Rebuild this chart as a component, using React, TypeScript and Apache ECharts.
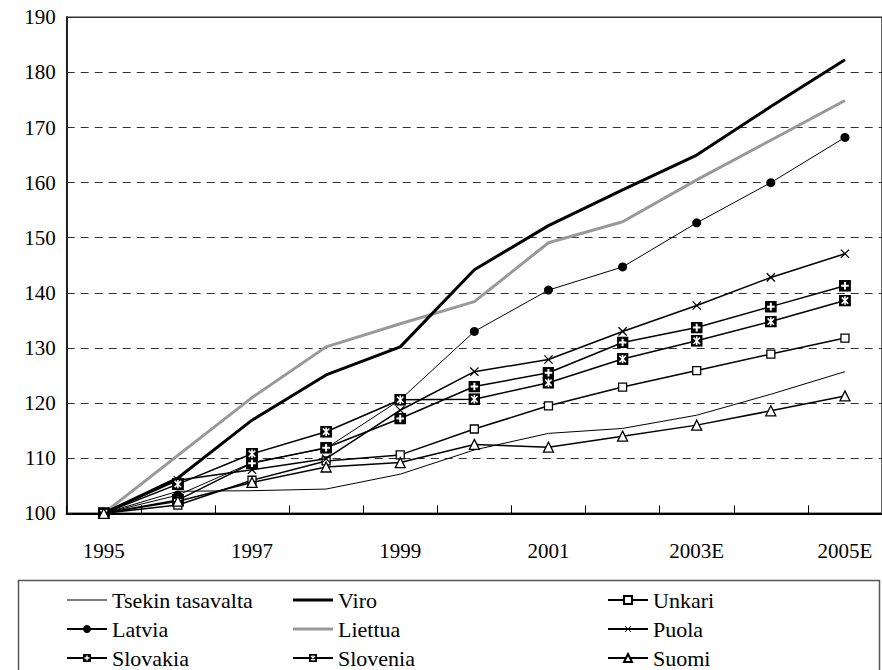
import React, { useEffect, useRef } from "react";
import * as echarts from "echarts";

const years = ["1995", "1996", "1997", "1998", "1999", "2000", "2001", "2002", "2003E", "2004E", "2005E"];
const yTicks = [100, 110, 120, 130, 140, 150, 160, 170, 180, 190];

const tsekin = [100, 104.0, 104.1, 104.4, 107.1, 111.5, 114.5, 115.4, 117.8, 121.6, 125.7];
const viro = [100, 106.4, 116.9, 125.1, 130.2, 144.2, 152.2, 158.7, 165.0, 173.8, 182.3];
const unkari = [100, 101.5, 106.0, 109.5, 110.6, 115.3, 119.5, 122.9, 125.9, 128.9, 131.8];
const latvia = [100, 103.3, 109.2, 111.8, 120.6, 133.0, 140.5, 144.7, 152.7, 160.0, 168.2];
const liettua = [100, 110.5, 121.0, 130.2, 134.4, 138.4, 149.1, 152.9, 160.5, 167.7, 174.9];
const puola = [100, 106.0, 107.9, 109.9, 118.7, 125.7, 127.9, 133.0, 137.7, 142.8, 147.1];
const slovakia = [100, 102.4, 109.1, 111.9, 117.2, 123.0, 125.5, 131.0, 133.7, 137.5, 141.3];
const slovenia = [100, 105.3, 110.8, 114.8, 120.6, 120.7, 123.7, 128.0, 131.3, 134.8, 138.6];
const suomi = [100, 102.2, 105.6, 108.4, 109.2, 112.5, 112.0, 114.0, 116.0, 118.6, 121.3];

const FONT = "Liberation Serif";

const svgUri = (s: string) => "image://data:image/svg+xml;charset=utf-8," + encodeURIComponent(s);
const plusBox = svgUri(
  "<svg xmlns='http://www.w3.org/2000/svg' width='12' height='12' viewBox='0 0 12 12'><rect width='12' height='12' fill='black'/><path d='M6 2.2V9.8M2.2 6H9.8' stroke='white' stroke-width='2'/></svg>"
);
const starBox = svgUri(
  "<svg xmlns='http://www.w3.org/2000/svg' width='12' height='12' viewBox='0 0 12 12'><rect width='12' height='12' fill='black'/><path d='M6 1.8V10.2M2.8 2.8L9.2 9.2M9.2 2.8L2.8 9.2' stroke='white' stroke-width='1.6'/></svg>"
);
const xMark = svgUri(
  "<svg xmlns='http://www.w3.org/2000/svg' width='12' height='12' viewBox='0 0 12 12'><path d='M1.5 1.5L10.5 10.5M10.5 1.5L1.5 10.5' stroke='black' stroke-width='1.4'/></svg>"
);
const thinIcon = "path://M0,0H42V1H0Z";
const thickIcon = "path://M0,0H42V3H0Z";

export default function App() {
  const ref = useRef<HTMLDivElement>(null);
  useEffect(() => {
    if (!ref.current) return;
    const chart = echarts.init(ref.current, null, { renderer: "svg" });
    const line = (name: string, data: number[], width: number, color: string, symbol: string, size: number, itemStyle: any, z: number) => ({
      name,
      type: "line",
      data,
      z,
      symbol,
      symbolSize: size,
      showSymbol: symbol !== "none",
      lineStyle: { color, width },
      itemStyle: itemStyle || { color },
      emphasis: { disabled: true },
    });
    const legendBase = {
      orient: "vertical",
      top: 589,
      height: 81,
      padding: 0,
      itemWidth: 40,
      itemHeight: 10,
      itemGap: 7,
      textStyle: { fontFamily: FONT, fontSize: 22, color: "#000", lineHeight: 22 },
      selectedMode: false,
    };
    chart.setOption({
      animation: false,
      backgroundColor: "#fff",
      textStyle: { fontFamily: FONT },
      grid: {
        left: 66.7,
        top: 17.3,
        width: 818.4,
        height: 496,
        show: true,
        borderColor: "#333",
        borderWidth: 1.5,
      },
      xAxis: {
        type: "category",
        data: years,
        boundaryGap: true,
        axisLine: { lineStyle: { color: "#000", width: 2 } },
        axisTick: { show: true, inside: true, length: 8, interval: 0, lineStyle: { color: "#000", width: 1 } },
        axisLabel: { interval: 1, margin: 27, fontFamily: FONT, fontSize: 21, color: "#000" },
        splitLine: { show: false },
      },
      yAxis: {
        type: "value",
        min: yTicks[0],
        max: yTicks[yTicks.length - 1],
        interval: 10,
        axisLine: { show: true, lineStyle: { color: "#222", width: 2 } },
        axisTick: { show: true, inside: true, length: 5, lineStyle: { color: "#222" } },
        axisLabel: { margin: 11, fontFamily: FONT, fontSize: 21, color: "#000" },
        splitLine: { show: true, lineStyle: { color: "#333", width: 1, type: [8, 6] } },
      },
      legend: [
        {
          ...legendBase,
          left: 66,
          data: [{ name: "Tsekin tasavalta", icon: thinIcon }, "Latvia", "Slovakia"],
        },
        {
          ...legendBase,
          left: 292,
          data: [{ name: "Viro", icon: thickIcon }, { name: "Liettua", icon: thickIcon }, "Slovenia"],
        },
        { ...legendBase, left: 607, data: ["Unkari", "Puola", "Suomi"] },
      ],
      graphic: [
        {
          type: "rect",
          shape: { x: 18.5, y: 580.5, width: 861, height: 110 },
          style: { fill: "none", stroke: "#555", lineWidth: 1.5 },
          silent: true,
        },
      ],
      series: [
        line("Tsekin tasavalta", tsekin, 1, "#000", "none", 0, null, 2),
        line("Viro", viro, 3, "#000", "none", 0, null, 3),
        line("Unkari", unkari, 1.5, "#000", "rect", 8, { color: "#fff", borderColor: "#000", borderWidth: 1.3 }, 4),
        line("Latvia", latvia, 1, "#000", "circle", 9, { color: "#000" }, 5),
        line("Liettua", liettua, 3, "#999", "none", 0, null, 2),
        line("Puola", puola, 1.5, "#000", xMark, 11, { color: "#000" }, 6),
        line("Slovakia", slovakia, 1.5, "#000", plusBox, 12, { color: "#000" }, 7),
        line("Slovenia", slovenia, 1.5, "#000", starBox, 12, { color: "#000" }, 8),
        line("Suomi", suomi, 1.5, "#000", "triangle", 10, { color: "#fff", borderColor: "#000", borderWidth: 1.3 }, 9),
      ],
    });
    return () => chart.dispose();
  }, []);
  return <div ref={ref} style={{ position: "fixed", left: 0, top: 0, width: 882, height: 670 }} />;
}
